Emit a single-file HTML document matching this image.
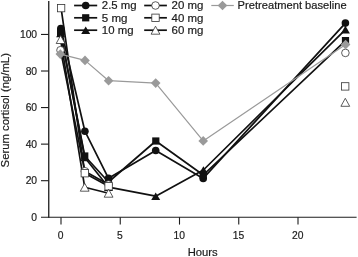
<!DOCTYPE html>
<html><head><meta charset="utf-8"><title>Serum cortisol</title>
<style>
html,body{margin:0;padding:0;background:#fff;}
svg{display:block;}
text{font-family:"Liberation Sans",Arial,Helvetica,sans-serif;font-size:10.3px;fill:#1a1a1a;stroke:#1a1a1a;stroke-width:0.18px;}
text.lg{font-size:10.8px;}
</style></head><body>
<svg width="358" height="257" viewBox="0 0 358 257">
<rect width="358" height="257" fill="#fff"/>

<g stroke="#1c1c1c" stroke-width="1.1" fill="none" shape-rendering="auto">
<line x1="48.75" y1="1" x2="48.75" y2="217.8" stroke-width="1.3"/>
<line x1="41" y1="217.25" x2="356.6" y2="217.25"/>
<line x1="41" y1="180.69" x2="48.6" y2="180.69"/>
<line x1="41" y1="144.13" x2="48.6" y2="144.13"/>
<line x1="41" y1="107.57" x2="48.6" y2="107.57"/>
<line x1="41" y1="71.01" x2="48.6" y2="71.01"/>
<line x1="41" y1="34.45" x2="48.6" y2="34.45"/>
<line x1="61.00" y1="217.2" x2="61.00" y2="224.6"/>
<line x1="120.25" y1="217.2" x2="120.25" y2="224.6"/>
<line x1="179.50" y1="217.2" x2="179.50" y2="224.6"/>
<line x1="238.75" y1="217.2" x2="238.75" y2="224.6"/>
<line x1="298.00" y1="217.2" x2="298.00" y2="224.6"/>
</g>
<text x="37.1" y="220.90" text-anchor="end">0</text>
<text x="37.1" y="184.36" text-anchor="end">20</text>
<text x="37.1" y="147.82" text-anchor="end">40</text>
<text x="37.1" y="111.28" text-anchor="end">60</text>
<text x="37.1" y="74.74" text-anchor="end">80</text>
<text x="37.1" y="38.20" text-anchor="end">100</text>
<text x="60.70" y="238.8" text-anchor="middle">0</text>
<text x="119.95" y="238.8" text-anchor="middle">5</text>
<text x="179.20" y="238.8" text-anchor="middle">10</text>
<text x="238.45" y="238.8" text-anchor="middle">15</text>
<text x="297.70" y="238.8" text-anchor="middle">20</text>
<text x="202.7" y="256" text-anchor="middle" textLength="30" lengthAdjust="spacingAndGlyphs">Hours</text>
<text transform="translate(9.2,167.4) rotate(-90)" textLength="114.3" lengthAdjust="spacingAndGlyphs">Serum cortisol (ng/mL)</text>
<polyline points="60.8,28.5 84.9,131.2 108.5,178.3 155.7,150.5 203.2,178.4 345.4,23.1" fill="none" stroke="#111" stroke-width="1.7" stroke-linejoin="round"/>
<polyline points="60.6,32.5 84.75,156.0 108.5,182 155.8,141 203.2,175 345.5,40.6" fill="none" stroke="#111" stroke-width="1.7" stroke-linejoin="round"/>
<polyline points="60.6,33.5 84.75,157.5 108.5,187.2 155.7,196.2 203.4,170 345.4,29.6" fill="none" stroke="#111" stroke-width="1.7" stroke-linejoin="round"/>
<polyline points="60.5,50.2 84.8,171.2 108.5,184.5" fill="none" stroke="#111" stroke-width="1.7" stroke-linejoin="round"/>
<polyline points="61.1,8.1 84.8,173.2 108.6,186.3" fill="none" stroke="#111" stroke-width="1.7" stroke-linejoin="round"/>
<polyline points="60.6,39.5 84.7,187.2 108.6,193.2" fill="none" stroke="#111" stroke-width="1.7" stroke-linejoin="round"/>
<polyline points="60.3,54.1 85.0,60.4 108.6,80.7 155.7,83.1 203.2,140.9 345.6,44.6" fill="none" stroke="#9a9a9a" stroke-width="1.2" stroke-linejoin="round"/>
<circle cx="60.8" cy="28.5" r="3.8" fill="#111"/>
<circle cx="84.9" cy="131.2" r="3.8" fill="#111"/>
<circle cx="108.5" cy="178.3" r="3.8" fill="#111"/>
<circle cx="155.7" cy="150.5" r="3.8" fill="#111"/>
<circle cx="203.2" cy="178.4" r="3.8" fill="#111"/>
<circle cx="345.4" cy="23.1" r="3.8" fill="#111"/>
<rect x="57.00" y="28.90" width="7.2" height="7.2" fill="#111"/>
<rect x="81.15" y="152.40" width="7.2" height="7.2" fill="#111"/>
<rect x="104.90" y="178.40" width="7.2" height="7.2" fill="#111"/>
<rect x="152.20" y="137.40" width="7.2" height="7.2" fill="#111"/>
<rect x="199.60" y="171.40" width="7.2" height="7.2" fill="#111"/>
<rect x="341.90" y="37.00" width="7.2" height="7.2" fill="#111"/>
<polygon points="60.60,29.70 65.10,37.30 56.10,37.30" fill="#111"/>
<polygon points="84.75,153.70 89.25,161.30 80.25,161.30" fill="#111"/>
<polygon points="108.50,183.40 113.00,191.00 104.00,191.00" fill="#111"/>
<polygon points="155.70,192.40 160.20,200.00 151.20,200.00" fill="#111"/>
<polygon points="203.40,166.20 207.90,173.80 198.90,173.80" fill="#111"/>
<polygon points="345.40,25.80 349.90,33.40 340.90,33.40" fill="#111"/>
<circle cx="60.5" cy="50.2" r="3.8" fill="#fff" stroke="#333" stroke-width="0.8"/>
<circle cx="84.8" cy="171.2" r="3.8" fill="#fff" stroke="#333" stroke-width="0.8"/>
<circle cx="108.5" cy="184.5" r="3.8" fill="#fff" stroke="#333" stroke-width="0.8"/>
<circle cx="345.4" cy="52.9" r="3.8" fill="#fff" stroke="#333" stroke-width="0.8"/>
<rect x="57.40" y="4.40" width="7.4" height="7.4" fill="#fff" stroke="#333" stroke-width="0.8"/>
<rect x="81.10" y="169.50" width="7.4" height="7.4" fill="#fff" stroke="#333" stroke-width="0.8"/>
<rect x="104.90" y="182.60" width="7.4" height="7.4" fill="#fff" stroke="#333" stroke-width="0.8"/>
<rect x="341.50" y="82.70" width="7.4" height="7.4" fill="#fff" stroke="#333" stroke-width="0.8"/>
<polygon points="60.60,35.50 65.00,43.50 56.20,43.50" fill="#fff" stroke="#333" stroke-width="0.8" stroke-linejoin="miter"/>
<polygon points="84.70,183.20 89.10,191.20 80.30,191.20" fill="#fff" stroke="#333" stroke-width="0.8" stroke-linejoin="miter"/>
<polygon points="108.60,189.20 113.00,197.20 104.20,197.20" fill="#fff" stroke="#333" stroke-width="0.8" stroke-linejoin="miter"/>
<polygon points="345.30,98.30 349.70,106.30 340.90,106.30" fill="#fff" stroke="#333" stroke-width="0.8" stroke-linejoin="miter"/>
<polygon points="60.30,49.30 65.10,54.10 60.30,58.90 55.50,54.10" fill="#9a9a9a"/>
<polygon points="85.00,55.60 89.80,60.40 85.00,65.20 80.20,60.40" fill="#9a9a9a"/>
<polygon points="108.60,75.90 113.40,80.70 108.60,85.50 103.80,80.70" fill="#9a9a9a"/>
<polygon points="155.70,78.30 160.50,83.10 155.70,87.90 150.90,83.10" fill="#9a9a9a"/>
<polygon points="203.20,136.10 208.00,140.90 203.20,145.70 198.40,140.90" fill="#9a9a9a"/>
<polygon points="345.60,39.80 350.40,44.60 345.60,49.40 340.80,44.60" fill="#9a9a9a"/>
<line x1="74.1" y1="5.5" x2="97.2" y2="5.5" stroke="#111" stroke-width="1.7"/>
<circle cx="85.7" cy="5.5" r="3.8" fill="#111"/>
<text class="lg" x="101.8" y="9.45" textLength="34.8" lengthAdjust="spacingAndGlyphs">2.5 mg</text>
<line x1="74.1" y1="17.8" x2="97.2" y2="17.8" stroke="#111" stroke-width="1.7"/>
<rect x="82.10" y="14.20" width="7.2" height="7.2" fill="#111"/>
<text class="lg" x="101.8" y="21.75" textLength="25.7" lengthAdjust="spacingAndGlyphs">5 mg</text>
<line x1="74.1" y1="30.2" x2="97.2" y2="30.2" stroke="#111" stroke-width="1.7"/>
<polygon points="85.70,26.40 90.20,34.00 81.20,34.00" fill="#111"/>
<text class="lg" x="101.8" y="34.15" textLength="31.7" lengthAdjust="spacingAndGlyphs">10 mg</text>
<line x1="144.2" y1="5.5" x2="166.9" y2="5.5" stroke="#111" stroke-width="1.7"/>
<circle cx="155.5" cy="5.5" r="3.8" fill="#fff" stroke="#333" stroke-width="0.8"/>
<text class="lg" x="171.5" y="9.45" textLength="31.9" lengthAdjust="spacingAndGlyphs">20 mg</text>
<line x1="144.2" y1="17.8" x2="166.9" y2="17.8" stroke="#111" stroke-width="1.7"/>
<rect x="151.80" y="14.10" width="7.4" height="7.4" fill="#fff" stroke="#333" stroke-width="0.8"/>
<text class="lg" x="171.5" y="21.75" textLength="31.9" lengthAdjust="spacingAndGlyphs">40 mg</text>
<line x1="144.2" y1="30.2" x2="166.9" y2="30.2" stroke="#111" stroke-width="1.7"/>
<polygon points="155.50,26.20 159.90,34.20 151.10,34.20" fill="#fff" stroke="#333" stroke-width="0.8" stroke-linejoin="miter"/>
<text class="lg" x="171.5" y="34.15" textLength="31.9" lengthAdjust="spacingAndGlyphs">60 mg</text>
<line x1="211.3" y1="5.5" x2="233.8" y2="5.5" stroke="#9a9a9a" stroke-width="1.2"/>
<polygon points="222.50,0.70 227.30,5.50 222.50,10.30 217.70,5.50" fill="#9a9a9a"/>
<text class="lg" x="237.6" y="9.45" textLength="109.0" lengthAdjust="spacingAndGlyphs">Pretreatment baseline</text>
</svg></body></html>
